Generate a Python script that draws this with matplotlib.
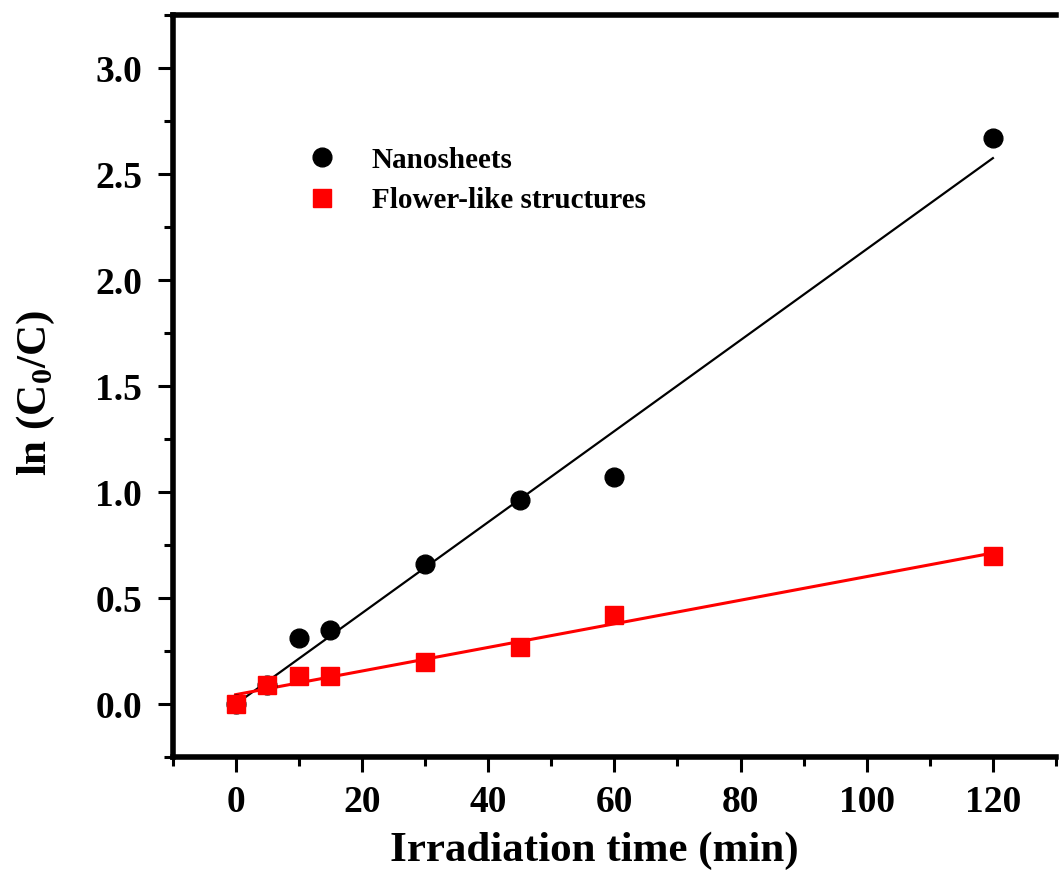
import numpy as np
import matplotlib
matplotlib.use("Agg")
import matplotlib.pyplot as plt
from matplotlib.ticker import MultipleLocator

# Irradiation time (min)
time_min = [0, 5, 10, 15, 30, 45, 60, 120]
# ln(C0/C) for each morphology
nanosheets = [0.0, 0.09, 0.31, 0.35, 0.66, 0.96, 1.07, 2.67]
flower_like = [0.0, 0.09, 0.13, 0.13, 0.20, 0.27, 0.42, 0.70]

series_labels = ["Nanosheets", "Flower-like structures"]
x_ticks = [0, 20, 40, 60, 80, 100, 120]
y_ticks = [0.0, 0.5, 1.0, 1.5, 2.0, 2.5, 3.0]

plt.rcParams["font.family"] = ["Liberation Serif", "DejaVu Serif"]
plt.rcParams["font.weight"] = "bold"
plt.rcParams["mathtext.fontset"] = "custom"
plt.rcParams["mathtext.rm"] = "Liberation Serif:bold"

W, H = 1059, 871
fig = plt.figure(figsize=(W / 100, H / 100), dpi=100)
left, right, top, bottom = 172.6, 1056, 15, 757
ax = fig.add_axes([left / W, 1 - bottom / H, (right - left) / W, (bottom - top) / H])

t = np.array(time_min, dtype=float)
fit_x = np.array([t.min(), t.max()])
for y, color in [(nanosheets, "black"), (flower_like, "red")]:
    k, b = np.polyfit(t, np.array(y), 1)
    ax.plot(fit_x, k * fit_x + b, color=color,
            lw=1.6 if color == "black" else 2.2, zorder=2)

ax.plot(time_min, nanosheets, "o", color="black", ms=13.5, mec="black",
        label=series_labels[0], zorder=3)
ax.plot(time_min, flower_like, "s", color="red", ms=12.5, mec="red",
        label=series_labels[1], zorder=3)

ax.set_xlim(-10, 130)
ax.set_ylim(-0.25, 3.25)
ax.set_xticks(x_ticks)
ax.set_yticks(y_ticks)
ax.xaxis.set_minor_locator(MultipleLocator(10))
ax.yaxis.set_minor_locator(MultipleLocator(0.25))
ax.set_xticklabels([str(v) for v in x_ticks])
ax.set_yticklabels([f"{v:.1f}" for v in y_ticks])

for side in ["left", "bottom", "top"]:
    ax.spines[side].set_linewidth(4)
ax.spines["right"].set_visible(False)

ax.tick_params(which="major", direction="out", length=11, width=2.2,
               labelsize=27)
ax.tick_params(axis="y", which="major", pad=11)
ax.tick_params(axis="x", which="major", pad=9)
ax.tick_params(which="minor", direction="out", length=6.5, width=2.2)
ax.tick_params(axis="y", which="both", right=False)
ax.tick_params(axis="x", which="both", top=False)

ax.set_xlabel("Irradiation time (min)", fontsize=31, fontweight="bold")
ax.set_ylabel(r"ln (C$_\mathregular{0}$/C)", fontsize=31, fontweight="bold")
ax.xaxis.set_label_coords((594 - left) / (right - left), -(832 - bottom) / (bottom - top))
ax.yaxis.set_label_coords(-(left - 57) / (right - left), (bottom - 393) / (bottom - top))

leg = ax.legend(loc="upper left",
                bbox_to_anchor=((293 - left) / (right - left), (bottom - 135) / (bottom - top)),
                frameon=False, fontsize=21, handlelength=1.2, handletextpad=1.1,
                labelspacing=0.45, borderaxespad=0)

fig.savefig("out.png", dpi=100)
